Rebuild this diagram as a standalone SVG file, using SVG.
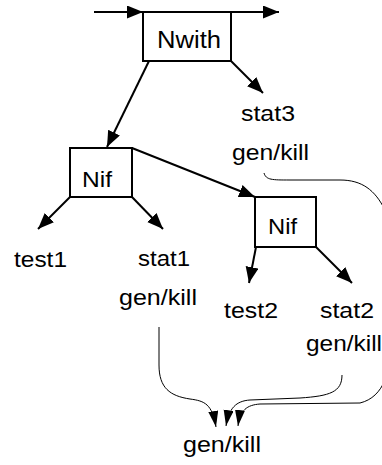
<svg xmlns="http://www.w3.org/2000/svg" width="382" height="465" viewBox="0 0 382 465">
<defs>
<marker id="ah" markerUnits="userSpaceOnUse" markerWidth="17" markerHeight="14" refX="16" refY="6.5" orient="auto">
<path d="M0,0 L16,6.5 L0,13 z" fill="#000"/>
</marker>
<marker id="sh" markerUnits="userSpaceOnUse" markerWidth="17" markerHeight="11" refX="16" refY="5" orient="auto">
<path d="M0,0 L16,5 L0,10 z" fill="#000"/>
</marker>
</defs>
<style>
.box{fill:#fff;stroke:#000;stroke-width:2}
.edge{fill:none;stroke:#000;stroke-width:2;marker-end:url(#ah)}
.flow{fill:none;stroke:#000;stroke-width:1;marker-end:url(#sh)}
text{font-family:"Liberation Sans",Arial,sans-serif;font-size:22px;fill:#000}
</style>
<g id="connectors">
<path class="edge" d="M94,12 L143,12"/>
<path class="edge" d="M231,12 L279,12"/>
<path class="edge" d="M149,61 L107,147"/>
<path class="edge" d="M231,61 L263,93"/>
<path class="edge" d="M132,148 L255,197"/>
<path class="edge" d="M70,197 L38,229"/>
<path class="edge" d="M132,197 L163,229"/>
<path class="edge" d="M256,247 L249,283"/>
<path class="edge" d="M316,247 L352,283"/>
<path class="flow" d="M159,327 L159,365 C159,388 170,396 190,399 C205,401 212,404 216,427"/>
<path class="flow" d="M342,375 C342,392 330,396 300,398 L250,400 C236,401 229,408 226,426"/>
<path class="flow" d="M264,173 C266,180 272,180 290,180 L340,180 C362,180 375,190 385,210 L385,380 C380,392 372,400 360,403 L260,404 C247,405 240,410 238,426"/>
</g>
<g id="nwith">
<rect class="box" x="143" y="12" width="88" height="49"/>
<text x="157" y="48" textLength="64" lengthAdjust="spacingAndGlyphs" style="font-size:23px">Nwith</text>
</g>
<g id="nif1">
<rect class="box" x="70" y="148" width="62" height="49"/>
<text x="82" y="187" textLength="30" lengthAdjust="spacingAndGlyphs">Nif</text>
</g>
<g id="nif2">
<rect class="box" x="255" y="197" width="61" height="50"/>
<text x="268" y="234" textLength="29" lengthAdjust="spacingAndGlyphs">Nif</text>
</g>
<g id="stat3">
<text x="241" y="121" textLength="54" lengthAdjust="spacingAndGlyphs">stat3</text>
<text x="232" y="160" textLength="77" lengthAdjust="spacingAndGlyphs">gen/kill</text>
</g>
<g id="test1">
<text x="14" y="267" textLength="53" lengthAdjust="spacingAndGlyphs">test1</text>
</g>
<g id="stat1">
<text x="138" y="266" textLength="52" lengthAdjust="spacingAndGlyphs">stat1</text>
<text x="119" y="305" textLength="78" lengthAdjust="spacingAndGlyphs">gen/kill</text>
</g>
<g id="test2">
<text x="224" y="318" textLength="54" lengthAdjust="spacingAndGlyphs">test2</text>
</g>
<g id="stat2">
<text x="320" y="318" textLength="54" lengthAdjust="spacingAndGlyphs">stat2</text>
<text x="306" y="351" textLength="76" lengthAdjust="spacingAndGlyphs">gen/kill</text>
</g>
<g id="genkill">
<text x="183" y="452" textLength="78" lengthAdjust="spacingAndGlyphs">gen/kill</text>
</g>
</svg>
